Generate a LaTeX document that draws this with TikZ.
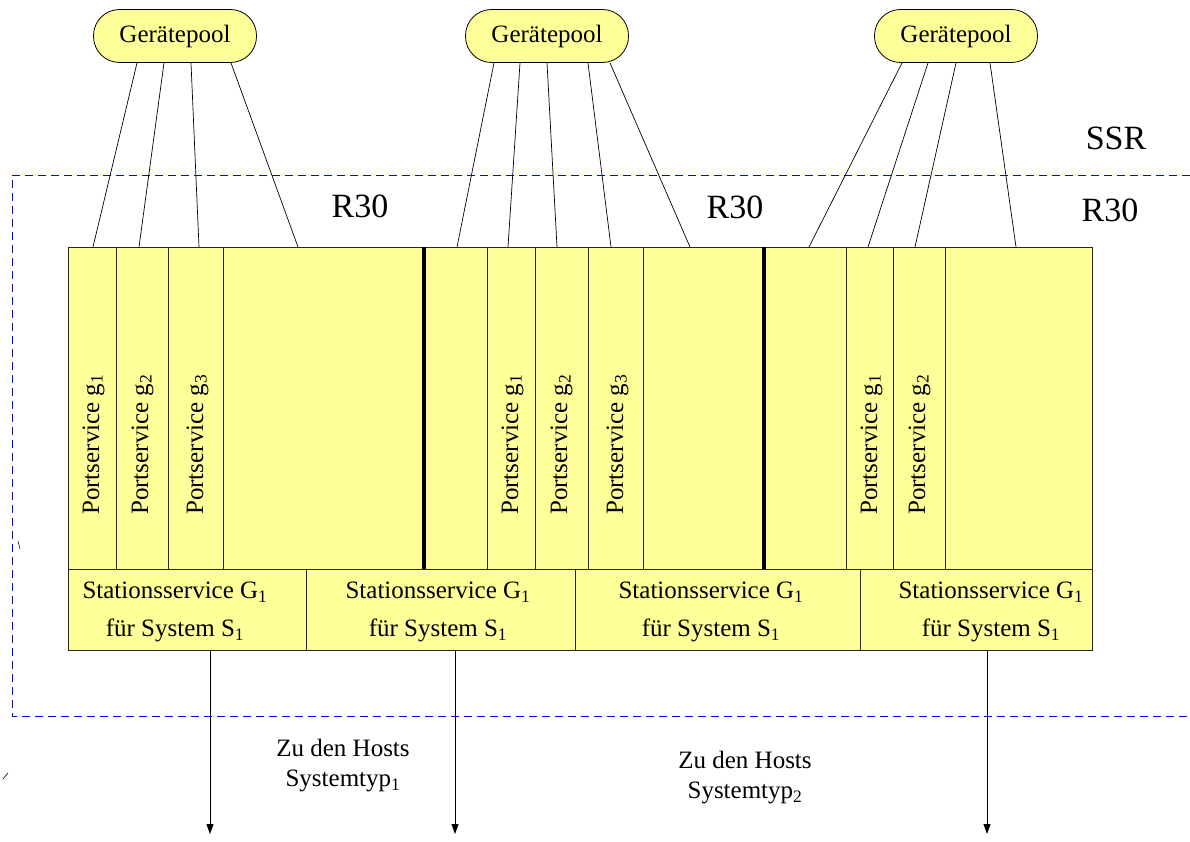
\documentclass[tikz,border=0pt]{standalone}
\usepackage{fontspec}
\setmainfont{Liberation Serif}
\usetikzlibrary{arrows.meta}
\definecolor{cellyellow}{HTML}{FFFF99}
\definecolor{ssrblue}{HTML}{0000FF}

\begin{document}
\begin{tikzpicture}
[x=1pt,y=-1pt,
pool/.style ={draw, line width=0.8pt, fill=cellyellow, rounded corners=26pt,
minimum width=163pt, minimum height=53pt, inner sep=0pt,
font=\fontsize{25}{30}\selectfont},
row/.style ={draw=black!85, line width=0.8pt, fill=cellyellow,
anchor=north west, inner sep=0pt, outer sep=0pt, minimum width=1024pt},
sep/.style ={draw=black!85, line width=0.8pt},
thicksep/.style ={draw=black, line width=3.5pt},
portlabel/.style ={rotate=90, anchor=base west, inner sep=0pt,
font=\fontsize{25}{30}\selectfont},
station/.style ={align=center, inner sep=0pt,
font=\fontsize{25}{38}\selectfont},
hosts/.style ={align=center, inner sep=0pt,
font=\fontsize{25}{30}\selectfont},
region/.style ={inner sep=0pt, font=\fontsize{34}{40}\selectfont},
link/.style ={draw, line width=0.7pt},
line/.style ={draw, line width=0.8pt, -{Triangle[length=10pt,width=7pt]}},
border/.style ={draw=ssrblue, line width=0.9pt, dash pattern=on 8pt off 5pt}]
\useasboundingbox (0,0) rectangle (1190,842);

% SSR / R30 boundary
\draw [border] (1190,175) -- (12,175) -- (12,716) -- (1190,716);
\draw [line width=0.6pt] (18,541) -- (20,549);
\draw [line width=0.6pt] (3,779) -- (8,773);

% the pools
\node [pool] (pool1) at (175,36) {Gerätepool};
\node [pool] (pool2) at (547,36) {Gerätepool};
\node [pool] (pool3) at (956,36) {Gerätepool};

% the two rows of the station
\node [row, minimum height=322pt] (ports) at (68,247) {};
\node [row, minimum height=81pt] (stations) at (68,569) {};
\foreach \x in {116,168,223,487,535,588,643,846,893,945}
  \path [sep] (ports.north -| \x,0) -- (ports.south -| \x,0);
\foreach \x in {424,764}
  \path [thicksep] (ports.north -| \x,0) -- (ports.south -| \x,0);
\foreach \x in {306,575,860}
  \path [sep] (stations.north -| \x,0) -- (stations.south -| \x,0);

% port services
\foreach \x/\n in {99/1,148/2,203/3,518/1,567/2,623/3,877/1,925/2}
  \node [portlabel] (port-\x) at (\x,515) {Portservice g\textsubscript{\n}};

% station services
\foreach \x [count=\i] in {175,438,711,991}
  \node [station] (stat\i) at (\x,612)
    {Stationsservice G\textsubscript{1}\\für System S\textsubscript{1}};

% pool connections
\foreach \a/\b in {137/93,164/139,191/199,231/298}
  \path [link] (pool1.south -| \a,0) -- (ports.north -| \b,0);
\foreach \a/\b in {494/457,520/508,547/557,588/611,610/690}
  \path [link] (pool2.south -| \a,0) -- (ports.north -| \b,0);
\foreach \a/\b in {902/809,928/868,956/915,990/1016}
  \path [link] (pool3.south -| \a,0) -- (ports.north -| \b,0);

% region labels
\node [region] (ssr) at (1116,138) {SSR};
\node [region] (r30a) at (360,206) {R30};
\node [region] (r30b) at (735,207) {R30};
\node [region] (r30c) at (1110,210) {R30};

% to the hosts
\coordinate (host1) at (210,834);
\coordinate (host2) at (455,834);
\coordinate (host3) at (987,834);
\foreach \h in {1,2,3}
  \path [line] (stations.south -| host\h) -- (host\h);
\node [hosts] (type1) at (343,766) {Zu den Hosts\\Systemtyp\textsubscript{1}};
\node [hosts] (type2) at (745,778) {Zu den Hosts\\Systemtyp\textsubscript{2}};
\end{tikzpicture}
\end{document}
